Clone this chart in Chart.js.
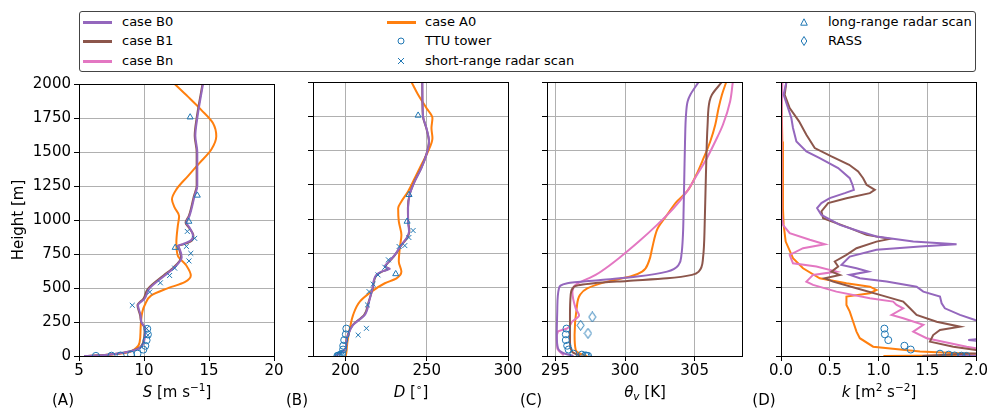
<!DOCTYPE html>
<html lang="en">
<head>
  <meta charset="UTF-8" />
  <title>Vertical profiles: case B0 / B1 / Bn / A0</title>
  <script src="https://cdn.jsdelivr.net/npm/chart.js@4.4.1/dist/chart.umd.min.js"></script>
  <style>
    body {
      margin: 0;
      width: 989px;
      height: 409px;
      position: relative;
      overflow: hidden;
      background: #fff;
      font-family: "DejaVu Sans", sans-serif;
      color: #000;
    }
    canvas { position: absolute; top: 72px; }
    #legend {
      position: absolute;
      left: 79px; top: 11px;
      width: 897px; height: 61px;
      box-sizing: border-box;
      border: 1px solid #444;
      border-radius: 3px;
      font-size: 13px;
    }
    .item { position: absolute; height: 16px; line-height: 16px; white-space: nowrap; }
    .ln { position: absolute; width: 29px; height: 3px; top: 7px; }
    .mk { position: absolute; top: 4px; }
    .xt {
      position: absolute;
      top: 383px;
      font-size: 15px;
      line-height: 18px;
      white-space: nowrap;
      transform: translateX(-50%);
    }
    .xt sup { font-size: 10.5px; position: relative; top: -6px; vertical-align: baseline; }
    .xt sub { font-size: 10.5px; position: relative; top: 3px; vertical-align: baseline; }
    .tag { position: absolute; top: 391px; font-size: 15px; line-height: 18px; transform: translateX(-50%); }
  </style>
</head>
<body>
  <div id="legend">
    <div class="item" style="left:3px;top:2px"><span class="ln" style="background:#9467bd"></span><span style="margin-left:39px">case B0</span></div>
    <div class="item" style="left:3px;top:21px"><span class="ln" style="background:#8c564b"></span><span style="margin-left:39px">case B1</span></div>
    <div class="item" style="left:3px;top:41px"><span class="ln" style="background:#e377c2"></span><span style="margin-left:39px">case Bn</span></div>

    <div class="item" style="left:307px;top:2px"><span class="ln" style="background:#ff7f0e"></span><span style="margin-left:38px">case A0</span></div>
    <div class="item" style="left:317px;top:21px">
      <svg class="mk" width="8" height="8"><circle cx="4" cy="4" r="3" fill="none" stroke="#1f77b4" stroke-width="1"/></svg>
      <span style="margin-left:28px">TTU tower</span></div>
    <div class="item" style="left:317px;top:41px">
      <svg class="mk" width="8" height="8"><path d="M1 1L7 7M7 1L1 7" stroke="#1f77b4" stroke-width="1"/></svg>
      <span style="margin-left:28px">short-range radar scan</span></div>

    <div class="item" style="left:720px;top:2px">
      <svg class="mk" width="8" height="8"><path d="M4 0.8L7.3 7.2L0.7 7.2Z" fill="none" stroke="#1f77b4" stroke-width="1"/></svg>
      <span style="margin-left:28px">long-range radar scan</span></div>
    <div class="item" style="left:720px;top:21px">
      <svg class="mk" width="8" height="10" style="top:3px"><path d="M4 0.5L6.8 5L4 9.5L1.2 5Z" fill="none" stroke="#1f77b4" stroke-width="1"/></svg>
      <span style="margin-left:28px">RASS</span></div>
  </div>

  <canvas id="pA" width="290" height="314" style="left:0px"></canvas>
  <canvas id="pB" width="231" height="314" style="left:293px"></canvas>
  <canvas id="pC" width="231" height="314" style="left:527px"></canvas>
  <canvas id="pD" width="228" height="314" style="left:761px"></canvas>

  <div class="xt" style="left:177px"><i>S</i> [m s<sup>−1</sup>]</div>
  <div class="xt" style="left:411px"><i>D</i> [<sup>∘</sup>]</div>
  <div class="xt" style="left:645px"><i>θ<sub>v</sub></i> [K]</div>
  <div class="xt" style="left:879px"><i>k</i> [m<sup>2</sup> s<sup>−2</sup>]</div>

  <div class="tag" style="left:63px">(A)</div>
  <div class="tag" style="left:297px">(B)</div>
  <div class="tag" style="left:531px">(C)</div>
  <div class="tag" style="left:764px">(D)</div>

<script>
// ---- height ticks (shared) ----
const yTicks = [0, 250, 500, 750, 1000, 1250, 1500, 1750, 2000];

// ---- TTU tower levels ----
const hTower = [200, 158, 116, 75, 47, 17, 10, 4, 2.4, 0.9];

// ---- (A) wind speed S ----
const hA_B = [2000,1750,1620,1500,1250,1180,1030,980,945,885,850,823,810,787,726,653,592,494,421,373,300,250,202,130,68,50,25,8,0];
const sA_B0 = [14.54,14.1,13.95,14.1,14.1,13.9,13.5,13.26,13.5,13.77,13.6,13.0,12.6,12.74,12.9,12.36,11.6,10.4,10.05,9.54,9.74,9.8,10.1,10.05,9.8,9.5,8.5,7.0,5.4];
const sA_B1 = [14.5,14.05,13.9,14.05,14.05,13.85,13.45,13.2,13.45,13.8,13.7,13.1,12.65,12.7,12.85,12.3,11.5,10.3,9.95,9.5,9.7,9.78,10.05,10.0,9.75,9.45,8.5,7.0,5.4];
const hA_A0 = [2000,1907,1810,1713,1615,1518,1420,1323,1225,1152,1091,1030,957,835,738,665,592,543,494,446,373,324,202,105,56,20,8,0];
const sA_A0 = [12.36,13.38,14.4,15.3,15.56,15.18,14.28,13.38,12.49,12.15,12.36,12.7,12.6,12.49,12.6,13.26,13.6,13.13,11.7,10.56,10.05,9.87,9.74,9.67,9.36,8.4,7.0,5.56];
const hLongA = [1756, 1181, 989, 797];
const sLongA = [13.55, 14.1, 13.45, 12.4];
const hShortA = [916,865,806,755,699,646,592,538,470,373,202,153];
const sShortA = [13.33,13.9,13.26,13.6,13.46,12.36,11.97,11.26,10.44,9.1,10.2,10.3];
const sTower = [10.25,10.3,10.2,10.1,9.95,9.5,9.0,8.2,7.5,6.3];

// ---- (B) wind direction D ----
const hB_B = [2000,1753,1664,1566,1470,1372,1274,1177,1080,982,909,860,811,738,690,653,636,616,592,494,397,300,227,153,105,56,20,0];
const dB_B0 = [247.3,247.7,249.8,251.4,249.8,246.7,242.6,239.5,238.5,238.5,239.1,237.5,234.4,230.3,226.8,224.2,227.3,222.1,219,216.6,214.5,211.9,204.7,201.6,200.6,200.2,196.5,193.9];
const dB_B1 = [247.2,247.6,249.7,251.3,249.7,246.6,242.5,239.4,238.4,238.6,239.3,237.8,234.6,230.5,227,224.5,226.5,222.5,219.3,216.8,214.3,211.5,204.5,201.4,200.5,200.1,196.5,193.9];
const hB_A0 = [2000,1907,1810,1737,1664,1591,1493,1396,1298,1201,1128,1079,982,884,787,690,616,567,531,470,397,300,202,105,32,0];
const dB_A0 = [240.6,244.7,249.8,253.5,252.9,253.5,250.8,246.7,242.6,238.5,234.4,232.4,232.8,234.4,233.4,232.8,234.4,231.4,224.2,216,208.8,204.7,202.7,201.2,200.6,200.2];
const hLongB = [1756, 1177, 982, 599];
const dLongB = [244.7, 239.1, 237.9, 230.9];
const hShortB = [916,865,806,799,702,648,592,524,470,373,202,153];
const dShortB = [241.6,239,236.5,233,226.4,224.2,220,217,214.5,213.5,212.9,207.8];
const dTower = [200.5,200.2,199.2,198.6,198.5,198,197,196,195.5,195];

// ---- (C) virtual potential temperature ----
const hC_B0 = [2000,1907,1860,1760,1566,1323,1079,884,738,665,616,580,555,531,494,348,153,56,20,0];
const tC_B0 = [305.29,304.69,304.5,304.38,304.31,304.26,304.21,304.16,304.05,303.85,303.02,300.87,298.25,295.86,295.26,295.14,295.1,295.19,295.6,296.3];
const hC_B1 = [2000,1907,1860,1688,1323,957,714,616,592,567,548,531,506,446,300,105,32,0];
const tC_B1 = [306.96,306.24,306.07,305.93,305.81,305.72,305.6,305.29,304.81,303.02,300.16,297.77,296.34,296.1,296.05,296.05,296.2,296.8];
const hC_Bn = [2000,1860,1688,1566,1444,1323,1201,1079,957,835,714,592,519,470,348,295,251,202,178,130,56,5];
const tC_Bn = [307.74,307.55,307.03,306.48,305.88,305.17,304.45,303.5,302.3,300.99,299.56,297.89,296.46,296.22,296.46,296.7,296.2,295.86,295.19,295.1,295.14,295.6];
const hC_A0 = [2000,1907,1810,1688,1566,1444,1323,1201,1128,1030,933,884,787,690,616,580,543,494,446,348,153,44,20,0];
const tC_A0 = [307.27,306.96,306.72,306.48,306.12,305.64,305.12,304.45,303.73,303.02,302.35,302.18,301.95,301.71,301.23,300.39,298.72,297.29,296.77,296.53,296.38,296.46,296.7,297.29];
const hRass = [285, 224, 166];
const tRass = [297.65, 296.81, 297.34];
const tTower = [295.8,295.75,295.75,295.85,295.95,296.3,296.9,297.15,297.25,297.35];

// ---- (D) TKE k ----
const hD_B0 = [2000,1907,1810,1737,1664,1566,1493,1444,1372,1298,1250,1213,1189,1152,1116,1079,1030,957,909,872,835,816,799,775,726,665,640,616,592,567,543,506,470,434,385,348,300,263,250,200,130,117,105,10,0];
const kD_B0 = [.055,.027,.072,.106,.123,.158,.26,.397,.586,.705,.733,.747,.654,.5,.414,.37,.414,.603,.808,.979,1.356,1.8,1.425,.979,.705,.62,.774,.894,.705,.808,1.082,1.39,1.459,1.63,1.647,1.68,1.835,1.99,2.05,2.2,2.1,1.92,2.1,2.3,1.8];
const hD_B1 = [2000,1907,1810,1713,1615,1518,1457,1396,1347,1298,1250,1213,1189,1152,1116,1055,1006,933,884,855,835,787,738,690,653,616,592,567,543,494,446,397,348,300,250,214,190,153,105,68,44,30,0];
const kD_B1 = [.055,.038,.089,.185,.26,.346,.517,.699,.791,.842,.877,.962,.911,.671,.483,.414,.432,.705,.877,1.116,.979,.774,.671,.551,.586,.517,.603,.449,.534,.774,1.014,1.253,1.322,1.39,1.596,1.836,1.63,1.56,1.527,1.767,2.0,2.3,1.45];
const hD_Bn = [2000,1810,1566,1323,1030,957,896,848,816,787,738,677,653,616,592,543,519,470,421,397,373,348,300,275,227,178,130,68,56,40];
const kD_Bn = [.014,.007,.004,.004,.007,.02,.089,.295,.449,.226,.089,.123,.363,.568,.329,.26,.329,.568,.911,1.15,1.185,1.253,1.134,1.253,1.459,1.356,1.493,1.904,2.0,2.3];
const hD_A0 = [2000,1810,1566,1323,1079,957,835,714,640,567,531,506,482,458,434,373,324,250,178,130,68,32,15,8,0];
const kD_A0 = [.003,.007,.014,.02,.02,.027,.048,.123,.226,.397,.671,.911,.979,.911,.671,.671,.705,.74,.774,.808,.945,1.425,2.0,2.3,1.05];
const kTower = [1.06,1.065,1.1,1.265,1.33,1.63,1.72,1.78,1.85,1.9];

const C_B0 = '#9467bd', C_B1 = '#8c564b', C_BN = '#e377c2', C_A0 = '#ff7f0e', C_OBS = '#1f77b4';
const GRID = '#b0b0b0';

Chart.defaults.font.family = '"DejaVu Sans", sans-serif';
Chart.defaults.font.size = 15;
Chart.defaults.color = '#000';

// thin diamond marker (matplotlib 'd')
const thinDiamond = document.createElement('canvas');
thinDiamond.width = 9; thinDiamond.height = 11;
(() => {
  const c = thinDiamond.getContext('2d');
  c.strokeStyle = C_OBS; c.lineWidth = 1;
  c.beginPath();
  c.moveTo(4.5, 0.5); c.lineTo(8, 5.5); c.lineTo(4.5, 10.5); c.lineTo(1, 5.5); c.closePath();
  c.stroke();
})();

const zip = (xs, hs) => xs.map((x, i) => ({ x, y: hs[i] }));

// smooth profile (monotone in height) or jagged polyline for TKE
function curve(color, xs, hs, jagged) {
  const ds = {
    data: zip(xs, hs), borderColor: color, borderWidth: 2,
    pointRadius: 0, fill: false, clip: 0
  };
  if (jagged) ds.tension = 0;
  else ds.cubicInterpolationMode = 'monotone';
  return ds;
}
function marks(style, xs, hs) {
  return {
    data: zip(xs, hs), showLine: false, pointStyle: style,
    pointRadius: 3.5, borderColor: C_OBS, borderWidth: 1,
    backgroundColor: 'rgba(0,0,0,0)', clip: 0
  };
}

// top + right spines
const frame = {
  id: 'frame',
  afterDraw(chart) {
    const { ctx, chartArea: a } = chart;
    ctx.save();
    ctx.strokeStyle = '#000';
    ctx.lineWidth = 1;
    ctx.strokeRect(Math.round(a.left) + 0.5, Math.round(a.top) + 0.5,
      Math.round(a.right - a.left), Math.round(a.bottom - a.top));
    ctx.restore();
  }
};

function panel(id, xMin, xMax, xTicks, fmt, datasets, first, padRight) {
  return new Chart(document.getElementById(id), {
    type: 'line',
    data: { datasets },
    options: {
      animation: false,
      responsive: false,
      indexAxis: 'y',
      layout: { padding: { top: 10, right: padRight, bottom: 0, left: 0 } },
      plugins: { legend: { display: false }, tooltip: { enabled: false } },
      scales: {
        x: {
          type: 'linear', position: 'bottom', min: xMin, max: xMax,
          afterBuildTicks: s => { s.ticks = xTicks.map(v => ({ value: v })); },
          afterFit: s => { s.height = 30; },
          ticks: { callback: fmt, maxRotation: 0, autoSkip: false, padding: 1 },
          grid: { color: GRID, lineWidth: 1, tickColor: '#000', tickLength: 5 },
          border: { color: '#000', width: 1 }
        },
        y: {
          type: 'linear', position: 'left', min: 0, max: 2000,
          afterBuildTicks: s => { s.ticks = yTicks.map(v => ({ value: v })); },
          afterFit: s => { s.width = first ? 79 : 20; },
          ticks: { display: first, padding: 3, callback: v => String(v) },
          title: { display: first, text: 'Height [m]', padding: { top: 10, bottom: 0 } },
          grid: { color: GRID, lineWidth: 1, tickColor: '#000', tickLength: 5 },
          border: { color: '#000', width: 1 }
        }
      }
    },
    plugins: [frame]
  });
}

const intFmt = v => String(v);

panel('pA', 5, 20, [5, 10, 15, 20], intFmt, [
  marks('circle', sTower, hTower),
  marks('crossRot', sShortA, hShortA),
  marks('triangle', sLongA, hLongA),
  curve(C_B0, sA_B0, hA_B),
  curve(C_B1, sA_B1, hA_B),
  curve(C_A0, sA_A0, hA_A0)
], true, 16);

panel('pB', 180, 300, [200, 250, 300], intFmt, [
  marks('circle', dTower, hTower),
  marks('crossRot', dShortB, hShortB),
  marks('triangle', dLongB, hLongB),
  curve(C_B0, dB_B0, hB_B),
  curve(C_B1, dB_B1, hB_B),
  curve(C_A0, dB_A0, hB_A0)
], false, 16);

panel('pC', 294.4, 308.4, [295, 300, 305], intFmt, [
  marks('circle', tTower, hTower),
  marks(thinDiamond, tRass, hRass),
  curve(C_B0, tC_B0, hC_B0),
  curve(C_B1, tC_B1, hC_B1),
  curve(C_BN, tC_Bn, hC_Bn),
  curve(C_A0, tC_A0, hC_A0)
], false, 16);

panel('pD', 0, 2, [0, 0.5, 1, 1.5, 2], v => v.toFixed(1), [
  marks('circle', kTower, hTower),
  curve(C_B0, kD_B0, hD_B0, true),
  curve(C_B1, kD_B1, hD_B1, true),
  curve(C_BN, kD_Bn, hD_Bn, true),
  curve(C_A0, kD_A0, hD_A0, true)
], false, 12);
</script>
</body>
</html>
